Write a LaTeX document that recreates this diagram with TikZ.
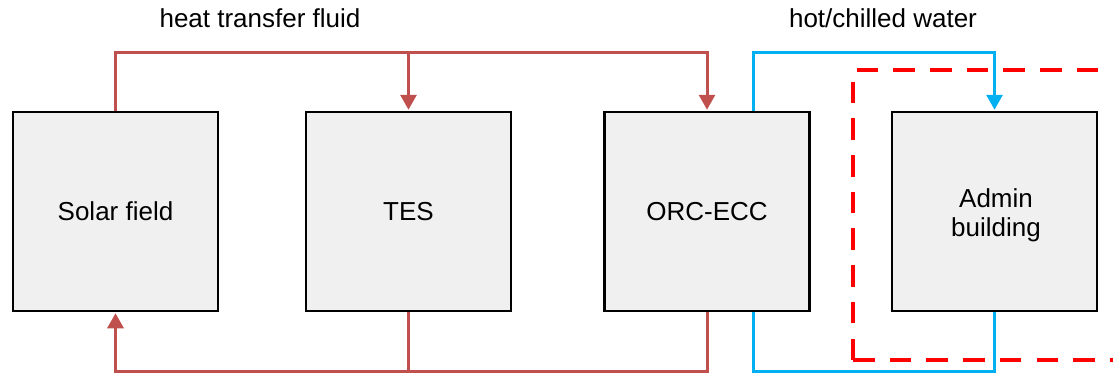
\documentclass[tikz,border=0pt]{standalone}
\usepackage{fontspec}
\setmainfont{Liberation Sans}
\usetikzlibrary{arrows.meta}
\definecolor{htf}{HTML}{C0504D}
\definecolor{water}{HTML}{00B0F0}
\definecolor{boxfill}{HTML}{F0F0F0}
\definecolor{bndred}{HTML}{FF0000}
\begin{document}
\begin{tikzpicture}[x=1pt,y=-1pt,
  unit/.style={draw=black, line width=2.5pt, fill=boxfill,
    minimum width=205pt, minimum height=199pt, inner sep=0pt,
    align=center, font=\fontsize{26}{29}\selectfont},
  caption/.style={inner sep=0pt, align=center, font=\fontsize{26}{29}\selectfont},
  htfline/.style={draw=htf, line width=3pt},
  waterline/.style={draw=water, line width=3pt},
  tip/.style={-{Triangle[width=16pt,length=15pt]}, shorten >=1pt},
  boundary/.style={draw=bndred, line width=4pt, dash pattern=on 21.5pt off 15.2pt}]
\useasboundingbox (0,0) rectangle (1113,373);

% routing levels
\coordinate (toplevel) at (0,52);
\coordinate (botlevel) at (0,371);

% system boundary around the building
\coordinate (bndcorner) at (853,360);
\coordinate (bndtop) at (1113,70);
\coordinate (bndbot) at (1113,360);
\draw[boundary] (bndcorner) -- (bndcorner |- bndtop) -- (bndtop);
\draw[boundary] (bndcorner) -- (bndbot);

% components
\node[unit] (solar) at (115.5,211.5) {Solar field};
\node[unit] (tes)   at (408.5,211.5) {TES};
\node[unit] (orc)   at (707,211.5)   {ORC-ECC};
\node[unit] (admin) at (994.5,211.5) {};
\node[caption] (admintext) at (996,215) {Admin\\building};

% heat transfer fluid loop
\draw[htfline, tip] (solar.north) -- (solar.north |- toplevel)
  -- (orc.north |- toplevel) -- (orc.north);
\draw[htfline, tip] (tes.north |- toplevel) -- (tes.north);
\draw[htfline, tip] (orc.south) -- (orc.south |- botlevel)
  -- (solar.south |- botlevel) -- (solar.south);
\draw[htfline] (tes.south) -- (tes.south |- botlevel);

% hot/chilled water loop
\draw[waterline, tip] ([xshift=46pt]orc.north) -- ([xshift=46pt]orc.north |- toplevel)
  -- (admin.north |- toplevel) -- (admin.north);
\draw[waterline] (admin.south) -- (admin.south |- botlevel)
  -- ([xshift=46pt]orc.south |- botlevel) -- ([xshift=46pt]orc.south);

% loop labels
\node[caption] (htflabel) at (260,18) {heat transfer fluid};
\node[caption] (waterlabel) at (883,18) {hot/chilled water};
\end{tikzpicture}
\end{document}
